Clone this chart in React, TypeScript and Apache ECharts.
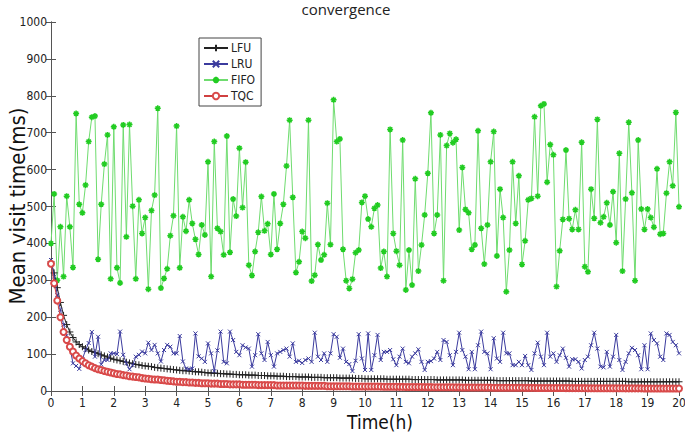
import React, { useEffect, useRef } from "react";
import * as echarts from "echarts";

// Time step index 0..200 -> 0.0h .. 20.0h (every 0.1 h)
const STEP = 0.1;

const lfu = [
  350, 320, 280, 240, 205, 180, 160, 145, 133, 126,
  120, 115, 111, 107, 104, 101, 98, 95, 92, 89,
  86, 84, 82, 80, 78, 76, 74, 72, 71, 69,
  68, 67, 66, 64, 63, 62, 61, 60, 59, 58,
  57, 56, 55, 55, 54, 53, 52, 52, 51, 50,
  49, 49, 48, 48, 47, 47, 46, 46, 45, 45,
  44, 44, 44, 43, 43, 43, 42, 42, 42, 41,
  41, 41, 40, 40, 40, 39, 39, 39, 39, 38,
  38, 38, 38, 37, 37, 37, 37, 36, 36, 36,
  36, 36, 35, 35, 35, 35, 35, 34, 34, 34,
  33, 33, 33, 33, 33, 33, 33, 32, 32, 32,
  32, 32, 32, 32, 32, 31, 31, 31, 31, 31,
  31, 31, 31, 30, 30, 30, 30, 30, 30, 30,
  30, 30, 29, 29, 29, 29, 29, 29, 29, 29,
  29, 29, 28, 28, 28, 28, 28, 28, 28, 28,
  28, 28, 28, 27, 27, 27, 27, 27, 27, 27,
  27, 27, 27, 27, 27, 27, 26, 26, 26, 26,
  26, 26, 26, 26, 26, 26, 26, 26, 26, 26,
  26, 26, 26, 26, 25, 25, 25, 25, 25, 25,
  25, 25, 25, 25, 25, 25, 25, 25, 25, 25,
  25,
];

const lru = [
  355, 310, 260, 220, 180, 150, 120, 75, 68, 60,
  86, 111, 130, 160, 93, 147, 72, 84, 84, 102,
  102, 100, 161, 98, 75, 59, 70, 93, 98, 107,
  102, 131, 111, 125, 102, 80, 111, 125, 120, 102,
  102, 149, 80, 61, 59, 61, 156, 94, 88, 79,
  129, 102, 54, 110, 161, 79, 75, 161, 138, 106,
  97, 124, 118, 115, 66, 97, 154, 102, 84, 133,
  97, 66, 102, 106, 111, 115, 93, 129, 79, 82,
  76, 84, 88, 79, 158, 93, 84, 102, 79, 102,
  154, 147, 90, 115, 79, 73, 54, 82, 154, 88,
  57, 156, 57, 97, 152, 84, 106, 106, 111, 86,
  70, 93, 115, 79, 75, 93, 102, 113, 79, 57,
  79, 81, 88, 106, 84, 138, 133, 97, 70, 106,
  158, 111, 93, 59, 106, 59, 124, 161, 106, 102,
  59, 143, 88, 79, 158, 102, 102, 70, 70, 79,
  70, 95, 70, 57, 102, 131, 93, 70, 158, 93,
  102, 79, 97, 115, 90, 66, 86, 86, 79, 61,
  84, 93, 124, 158, 115, 66, 64, 106, 66, 93,
  152, 84, 57, 79, 102, 117, 111, 97, 59, 124,
  59, 156, 138, 129, 93, 84, 156, 152, 133, 124,
  102,
];

const fifo = [
  400, 534, 300, 445, 310, 528, 445, 335, 752, 506,
  483, 558, 676, 742, 745, 357, 506, 615, 694, 304,
  716, 334, 293, 721, 418, 722, 501, 304, 518, 427,
  470, 276, 489, 531, 766, 279, 305, 331, 421, 475,
  718, 334, 472, 433, 518, 454, 411, 370, 450, 423,
  621, 310, 676, 441, 432, 369, 691, 376, 520, 474,
  658, 497, 620, 341, 313, 378, 430, 527, 434, 453,
  370, 534, 384, 454, 506, 610, 734, 525, 321, 350,
  432, 414, 734, 298, 314, 397, 355, 369, 509, 397,
  789, 676, 683, 384, 299, 278, 303, 375, 382, 511,
  528, 466, 445, 495, 504, 333, 378, 310, 709, 427,
  379, 341, 680, 274, 382, 287, 575, 325, 396, 477,
  590, 754, 427, 477, 694, 299, 665, 698, 673, 682,
  436, 606, 492, 483, 384, 396, 705, 441, 344, 450,
  621, 703, 366, 547, 470, 269, 382, 621, 454, 583,
  343, 407, 518, 522, 743, 528, 773, 778, 566, 668,
  640, 283, 380, 465, 653, 467, 438, 491, 438, 674,
  337, 323, 547, 468, 736, 456, 472, 510, 450, 540,
  402, 644, 325, 520, 728, 537, 299, 680, 493, 438,
  493, 470, 444, 602, 425, 427, 536, 621, 556, 755,
  499,
];

const tqc = [
  345, 292, 245, 200, 160, 138, 120, 107, 96, 88,
  81, 75, 70, 66, 62, 59, 57, 54, 52, 50,
  48, 46, 45, 43, 42, 40, 39, 38, 37, 35,
  34, 33, 32, 31, 31, 30, 29, 28, 27, 26,
  25, 25, 24, 24, 23, 23, 22, 22, 21, 21,
  21, 20, 20, 20, 19, 19, 19, 18, 18, 18,
  18, 17, 17, 17, 17, 17, 16, 16, 16, 16,
  16, 16, 15, 15, 15, 15, 15, 15, 15, 15,
  15, 14, 14, 14, 14, 14, 14, 14, 13, 13,
  13, 13, 13, 13, 13, 13, 12, 12, 12, 12,
  12, 12, 12, 12, 12, 11.8, 11.7, 11.6, 11.5, 11.4,
  11.3, 11.2, 11.1, 11, 11, 10.9, 10.8, 10.7, 10.6, 10.5,
  10.5, 10.4, 10.3, 10.2, 10.2, 10.1, 10, 10, 9.9, 9.8,
  9.8, 9.7, 9.6, 9.6, 9.5, 9.4, 9.4, 9.3, 9.2, 9.2,
  9.1, 9, 9, 8.9, 8.9, 8.8, 8.8, 8.7, 8.7, 8.6,
  8.6, 8.5, 8.5, 8.4, 8.4, 8.3, 8.3, 8.2, 8.2, 8.1,
  8.1, 8, 8, 8, 7.9, 7.9, 7.8, 7.8, 7.8, 7.7,
  7.7, 7.6, 7.6, 7.6, 7.5, 7.5, 7.5, 7.4, 7.4, 7.4,
  7.3, 7.3, 7.3, 7.2, 7.2, 7.2, 7.1, 7.1, 7.1, 7,
  7, 7, 7, 6.9, 6.9, 6.9, 6.8, 6.8, 6.8, 6.8,
  6.7,
];

const seriesNames = ["LFU", "LRU", "FIFO", "TQC"];
const xTitle = "Time(h)";
const yTitle = "Mean visit time(ms)";
const chartTitle = "convergence";

const FONT = "'Liberation Sans Narrow', 'DejaVu Sans Condensed', 'Liberation Sans', Arial, sans-serif";

const PLUS = "path://M0,5L10,5M5,0L5,10";
const CROSS = "path://M1,1L9,9M9,1L1,9";
const STAR = "path://M0,5L10,5M5,0L5,10M1.5,1.5L8.5,8.5M8.5,1.5L1.5,8.5";

function toPairs(values: number[]) {
  return values.map((v, i) => [Number((i * STEP).toFixed(1)), v]);
}

export default function App() {
  const ref = useRef<HTMLDivElement>(null);

  useEffect(() => {
    if (!ref.current) return;
    document.body.style.margin = "0";
    document.body.style.background = "#ffffff";
    const chart = echarts.init(ref.current, undefined, { renderer: "svg" });

    const axisLine = { show: true, lineStyle: { color: "#555", width: 1 } };
    const tick = { show: true, inside: true, length: 5, lineStyle: { color: "#555" } };
    const plain = (v: number) => String(v);

    chart.setOption({
      animation: false,
      backgroundColor: "#ffffff",
      title: {
        text: chartTitle,
        left: 346,
        textAlign: "center",
        top: 1,
        padding: 0,
        textStyle: { fontFamily: "'Open Sans', sans-serif", fontSize: 15, fontWeight: "normal", color: "#222", lineHeight: 16 },
      },
      legend: {
        data: seriesNames,
        orient: "vertical",
        left: 199,
        top: 38,
        itemWidth: 24,
        itemHeight: 8,
        itemGap: 4,
        padding: [4, 6, 4, 4],
        borderColor: "#444",
        borderWidth: 1,
        backgroundColor: "#fff",
        textStyle: { fontFamily: FONT, fontSize: 12, color: "#222", padding: [0, 0, 0, -2] },
      },
      grid: { left: 51, right: 6, top: 22, bottom: 44, containLabel: false, outerBoundsMode: "none" },
      graphic: [
        {
          type: "text",
          x: 380,
          y: 422,
          style: {
            text: xTitle,
            fontFamily: FONT,
            fontSize: 19,
            fill: "#111",
            textAlign: "center",
            textVerticalAlign: "middle",
          },
        },
        {
          type: "text",
          x: 17,
          y: 206,
          rotation: Math.PI / 2,
          style: {
            text: yTitle,
            fontFamily: FONT,
            fontSize: 22,
            fill: "#111",
            textAlign: "center",
            textVerticalAlign: "middle",
          },
        },
      ],
      xAxis: [
        {
          type: "value",
          min: 0,
          max: 20,
          interval: 1,
          position: "bottom",
          axisLine,
          axisTick: tick,
          axisLabel: { fontFamily: FONT, fontSize: 12, color: "#222", margin: 6, formatter: plain },
          splitLine: { show: false },
        },
        {
          type: "value",
          min: 0,
          max: 20,
          interval: 1,
          position: "top",
          axisLine,
          axisTick: tick,
          axisLabel: { show: false },
          splitLine: { show: false },
        },
      ],
      yAxis: [
        {
          type: "value",
          min: 0,
          max: 1000,
          interval: 100,
          position: "left",
          axisLine,
          axisTick: tick,
          axisLabel: { fontFamily: FONT, fontSize: 12, color: "#222", margin: 4, formatter: plain },
          splitLine: { show: false },
        },
        {
          type: "value",
          min: 0,
          max: 1000,
          interval: 100,
          position: "right",
          axisLine,
          axisTick: tick,
          axisLabel: { show: false },
          splitLine: { show: false },
        },
      ],
      series: [
        {
          name: "LFU",
          type: "line",
          data: toPairs(lfu),
          symbol: PLUS,
          symbolSize: 7,
          showAllSymbol: true,
          lineStyle: { color: "#222", width: 1 },
          itemStyle: { color: "#222", borderColor: "#222", borderWidth: 1 },
          z: 3,
        },
        {
          name: "LRU",
          type: "line",
          data: toPairs(lru),
          symbol: CROSS,
          symbolSize: 4,
          showAllSymbol: true,
          lineStyle: { color: "#3b3b9e", width: 1 },
          itemStyle: { color: "#3b3b9e", borderColor: "#3b3b9e", borderWidth: 1 },
          z: 4,
        },
        {
          name: "FIFO",
          type: "line",
          data: toPairs(fifo),
          symbol: STAR,
          symbolSize: 6,
          showAllSymbol: true,
          lineStyle: { color: "#6fdc6f", width: 1 },
          itemStyle: { color: "#22cc22", borderColor: "#22cc22", borderWidth: 1.5 },
          z: 2,
        },
        {
          name: "TQC",
          type: "line",
          data: toPairs(tqc),
          symbol: "emptyCircle",
          symbolSize: 6,
          showAllSymbol: true,
          lineStyle: { color: "#d04040", width: 1 },
          itemStyle: { color: "#d94a4a", borderColor: "#d94a4a", borderWidth: 1 },
          z: 5,
        },
      ],
    });

    return () => chart.dispose();
  }, []);

  return (
    <div
      ref={ref}
      style={{ position: "fixed", left: 0, top: 0, width: 685, height: 435, background: "#fff" }}
    />
  );
}
